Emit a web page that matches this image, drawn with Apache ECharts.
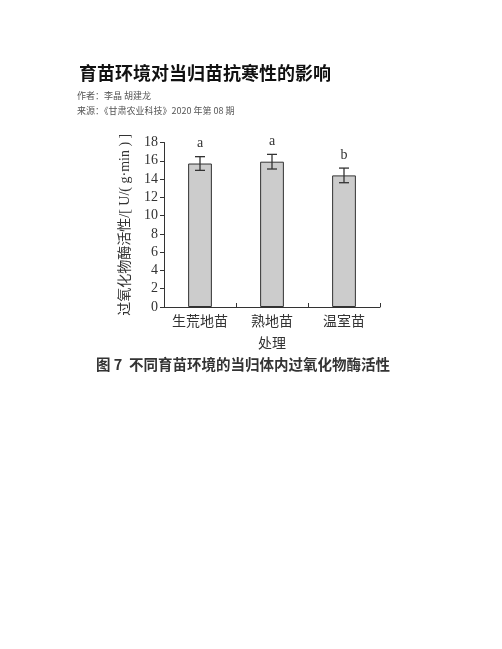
<!DOCTYPE html>
<html><head><meta charset="utf-8">
<script src="https://cdn.jsdelivr.net/npm/echarts@6/dist/echarts.min.js"></script>
<style>html,body{margin:0;padding:0;background:#fff}#c{width:502px;height:649px}</style>
</head><body><div id="c"></div>
<script>
const categories = ['生荒地苗', '熟地苗', '温室苗'];
const values = [15.7, 15.9, 14.4];
const errors = [0.75, 0.8, 0.8];
const letters = ['a', 'a', 'b'];
const yTicks = [0, 2, 4, 6, 8, 10, 12, 14, 16, 18];

const serif = '"Liberation Serif","Noto Sans CJK SC",serif';
const chart = echarts.init(document.getElementById('c'));
chart.setOption({
  animation: false,
  backgroundColor: '#fff',
  title: [
    {text: '育苗环境对当归苗抗寒性的影响', left: 74, top: 59,
     textStyle: {fontSize: 18, fontWeight: 'bold', color: '#111', fontFamily: '"Noto Sans CJK SC"'}},
    {text: '作者：李晶 胡建龙', left: 72, top: 86,
     textStyle: {fontSize: 9, fontWeight: 'normal', color: '#555', fontFamily: '"Noto Sans CJK SC"'}},
    {text: '来源：《甘肃农业科技》2020 年第 08 期', left: 72, top: 101,
     textStyle: {fontSize: 9, fontWeight: 'normal', color: '#555', fontFamily: '"Noto Sans CJK SC"'}},
    {text: '图 7  不同育苗环境的当归体内过氧化物酶活性', left: 91, top: 352,
     textStyle: {fontSize: 14.5, fontWeight: 'bold', color: '#333', fontFamily: '"Noto Sans CJK SC"'}}
  ],
  grid: {left: 164, right: 122, top: 142.5, bottom: 342, containLabel: false},
  xAxis: {
    type: 'category', data: categories,
    name: '处理', nameLocation: 'middle', nameGap: 30,
    nameTextStyle: {fontSize: 14, color: '#333', fontFamily: serif},
    axisLine: {lineStyle: {color: '#333', width: 1}},
    axisTick: {show: true, inside: true, length: 4, interval: 0, alignWithLabel: false, lineStyle: {color: '#333'}},
    axisLabel: {fontSize: 14, color: '#333', fontFamily: serif, margin: 8, interval: 0}
  },
  yAxis: {
    type: 'value', min: 0, max: 18, interval: 2,
    name: '过氧化物酶活性/[ U/( g·min ) ]', nameLocation: 'middle', nameGap: 32, nameRotate: 90,
    nameTextStyle: {fontSize: 14, color: '#333', fontFamily: serif},
    axisLine: {show: true, lineStyle: {color: '#333', width: 1}},
    axisTick: {show: true, length: 4, lineStyle: {color: '#333'}},
    axisLabel: {fontSize: 14, color: '#333', fontFamily: serif, margin: 6,
      formatter: v => yTicks.includes(v) ? String(v) : ''},
    splitLine: {show: false}
  },
  series: [
    {type: 'bar', data: values, barWidth: '33%',
     itemStyle: {color: '#cccccc', borderColor: '#333', borderWidth: 1}},
    {type: 'custom',
     data: values.map((v, i) => [i, v, errors[i], letters[i]]),
     renderItem: (params, api) => {
       const i = api.value(0), v = api.value(1), e = api.value(2);
       const top = api.coord([i, v + e]);
       const bot = api.coord([i, v - e]);
       const w = 5;
       const st = {stroke: '#333', lineWidth: 1.3};
       return {type: 'group', children: [
         {type: 'line', shape: {x1: top[0], y1: top[1], x2: bot[0], y2: bot[1]}, style: st},
         {type: 'line', shape: {x1: top[0] - w, y1: top[1], x2: top[0] + w, y2: top[1]}, style: st},
         {type: 'line', shape: {x1: bot[0] - w, y1: bot[1], x2: bot[0] + w, y2: bot[1]}, style: st},
         {type: 'text', x: top[0], y: top[1] - 6,
          style: {text: letters[params.dataIndex], fill: '#333', font: '14px "Liberation Serif"',
                  align: 'center', verticalAlign: 'bottom'}}
       ]};
     }, z: 5}
  ]
});
</script></body></html>
